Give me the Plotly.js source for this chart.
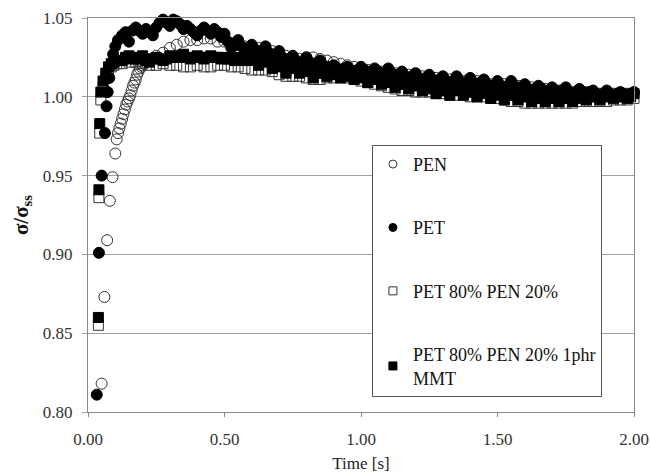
<!DOCTYPE html>
<html>
<head>
<meta charset="utf-8">
<script src="https://cdn.plot.ly/plotly-3.0.1.min.js"></script>
<style>html,body{margin:0;padding:0;background:#fff;}#chart{width:651px;height:473px;}</style>
</head>
<body>
<div id="chart"></div>
<script>
// Legend names
const seriesNames = ["PEN", "PET", "PET 80% PEN 20%", "PET 80% PEN 20% 1phr<br>MMT"];

// Shared time values for the long part of every curve [s]
const tTail = [0.125,0.15,0.175,0.2,0.225,0.25,0.275,0.3,0.325,0.35,
  0.375,0.4,0.425,0.45,0.475,0.5,0.525,0.55,0.575,0.6,
  0.625,0.65,0.675,0.7,0.725,0.75,0.775,0.8,0.825,0.85,
  0.875,0.9,0.925,0.95,0.975,1.0,1.025,1.05,1.075,1.1,
  1.125,1.15,1.175,1.2,1.225,1.25,1.275,1.3,1.325,1.35,
  1.375,1.4,1.425,1.45,1.475,1.5,1.525,1.55,1.575,1.6,
  1.625,1.65,1.675,1.7,1.725,1.75,1.775,1.8,1.825,1.85,
  1.875,1.9,1.925,1.95,1.975,2.0];
// In-between time values (denser sampling of the filled series) [s]
const tTailB = [0.1375,0.1625,0.1875,0.2125,0.2375,0.2625,0.2875,0.3125,0.3375,0.3625,
  0.3875,0.4125,0.4375,0.4625,0.4875,0.5125,0.5375,0.5625,0.5875,0.6125,
  0.6375,0.6625,0.6875,0.7125,0.7375,0.7625,0.7875,0.8125,0.8375,0.8625,
  0.8875,0.9125,0.9375,0.9625,0.9875,1.0125,1.0375,1.0625,1.0875,1.1125,
  1.1375,1.1625,1.1875,1.2125,1.2375,1.2625,1.2875,1.3125,1.3375,1.3625,
  1.3875,1.4125,1.4375,1.4625,1.4875,1.5125,1.5375,1.5625,1.5875,1.6125,
  1.6375,1.6625,1.6875,1.7125,1.7375,1.7625,1.7875,1.8125,1.8375,1.8625,
  1.8875,1.9125,1.9375,1.9625,1.9875];

// PEN (open circles)
const penX0 = [0.050,0.060,0.070,0.080,0.090,0.100,0.105,0.110,0.115,0.120,0.130,0.135,0.140,0.145,0.155,0.160,0.165,0.170,0.180,0.185,0.190,0.195,0.205,0.210];
const penY0 = [0.818,0.873,0.909,0.934,0.949,0.964,0.973,0.977,0.980,0.983,0.989,0.992,0.995,0.997,1.001,1.004,1.007,1.009,1.014,1.016,1.018,1.019,1.021,1.022];
const penY = [0.986,0.999,1.011,1.020,1.024,1.026,1.028,1.031,1.033,1.035,
  1.036,1.036,1.037,1.037,1.035,1.035,1.034,1.033,1.032,1.031,
  1.031,1.030,1.029,1.027,1.026,1.025,1.024,1.025,1.025,1.024,
  1.023,1.022,1.021,1.020,1.019,1.018,1.017,1.017,1.016,1.016,
  1.015,1.014,1.014,1.013,1.013,1.012,1.012,1.011,1.011,1.011,
  1.010,1.010,1.010,1.009,1.008,1.008,1.008,1.008,1.007,1.006,
  1.006,1.005,1.005,1.004,1.004,1.004,1.003,1.003,1.003,1.003,
  1.002,1.002,1.002,1.002,1.002,1.002];

// PET (filled circles)
const petX0 = [0.032,0.040,0.050,0.062,0.068,0.072,0.078,0.085,0.092,0.100,0.110];
const petY0 = [0.811,0.901,0.950,0.977,0.994,1.003,1.012,1.020,1.027,1.032,1.036];
const petY = [1.039,1.035,1.044,1.040,1.041,1.044,1.049,1.045,1.048,1.043,
  1.043,1.039,1.044,1.040,1.041,1.040,1.031,1.036,1.028,1.033,
  1.027,1.032,1.025,1.029,1.022,1.026,1.020,1.025,1.018,1.023,
  1.017,1.020,1.016,1.019,1.015,1.019,1.014,1.018,1.013,1.018,
  1.012,1.016,1.011,1.015,1.010,1.014,1.008,1.013,1.007,1.013,
  1.007,1.012,1.006,1.011,1.005,1.010,1.004,1.010,1.004,1.008,
  1.003,1.007,1.002,1.006,1.002,1.006,1.001,1.005,1.002,1.004,
  1.001,1.004,1.001,1.003,1.001,1.003];
const petYB = [1.041,1.042,1.042,1.043,1.039,1.047,1.047,1.049,1.046,1.045,
  1.041,1.042,1.042,1.043,1.038,1.035,1.033,1.032,1.030,1.030,
  1.029,1.028,1.027,1.025,1.024,1.023,1.022,1.022,1.021,1.020,
  1.019,1.018,1.018,1.017,1.017,1.017,1.016,1.016,1.015,1.015,
  1.014,1.013,1.013,1.012,1.012,1.011,1.011,1.010,1.010,1.010,
  1.009,1.009,1.009,1.008,1.007,1.007,1.007,1.007,1.006,1.005,
  1.005,1.005,1.004,1.004,1.004,1.003,1.003,1.003,1.003,1.002,
  1.002,1.002,1.002,1.002,1.002];

// PET 80% PEN 20% (open squares)
const blendX0 = [0.038,0.040,0.043,0.047,0.055,0.065,0.075,0.085,0.095,0.105];
const blendY0 = [0.855,0.936,0.977,0.998,1.006,1.012,1.016,1.019,1.020,1.021];
const blendY = [1.021,1.022,1.022,1.021,1.020,1.020,1.021,1.020,1.020,1.019,
  1.019,1.020,1.019,1.019,1.020,1.020,1.019,1.019,1.018,1.017,
  1.017,1.017,1.016,1.014,1.013,1.013,1.013,1.012,1.011,1.011,
  1.012,1.012,1.012,1.012,1.011,1.010,1.009,1.008,1.007,1.006,
  1.005,1.004,1.004,1.003,1.003,1.003,1.002,1.002,1.001,1.001,
  1.001,1.000,1.000,1.000,0.999,0.999,0.998,0.997,0.997,0.996,
  0.996,0.996,0.996,0.996,0.996,0.996,0.996,0.997,0.997,0.997,
  0.997,0.997,0.998,0.998,0.998,0.999];

// PET 80% PEN 20% 1phr MMT (filled squares)
const mmtX0 = [0.038,0.040,0.043,0.047,0.055,0.065,0.075,0.085,0.095,0.105];
const mmtY0 = [0.860,0.941,0.983,1.003,1.010,1.015,1.019,1.021,1.022,1.023];
const mmtY = [1.023,1.026,1.024,1.026,1.022,1.025,1.023,1.026,1.025,1.027,
  1.024,1.026,1.024,1.026,1.025,1.025,1.024,1.025,1.023,1.027,
  1.020,1.026,1.018,1.023,1.015,1.021,1.015,1.020,1.012,1.018,
  1.013,1.017,1.012,1.016,1.011,1.015,1.009,1.014,1.008,1.013,
  1.006,1.011,1.005,1.010,1.004,1.009,1.002,1.008,1.001,1.007,
  1.001,1.006,1.000,1.006,0.999,1.005,0.998,1.004,0.998,1.003,
  0.997,1.002,0.997,1.002,0.997,1.002,0.997,1.002,0.998,1.001,
  0.998,1.001,0.999,1.001,0.999,1.002];
const mmtYB = [1.025,1.024,1.025,1.023,1.024,1.024,1.024,1.025,1.026,1.025,
  1.025,1.025,1.025,1.025,1.024,1.024,1.023,1.024,1.024,1.023,
  1.023,1.022,1.020,1.019,1.018,1.018,1.017,1.016,1.015,1.015,
  1.015,1.014,1.014,1.013,1.013,1.012,1.011,1.011,1.010,1.009,
  1.008,1.008,1.007,1.007,1.006,1.005,1.005,1.004,1.004,1.004,
  1.003,1.003,1.003,1.002,1.002,1.001,1.001,1.001,1.000,1.000,
  1.000,0.999,0.999,0.999,0.999,0.999,0.999,1.000,1.000,1.000,
  1.000,1.000,1.000,1.000,1.000];

const serif = "Liberation Serif, Times New Roman, serif";
const symbols = ["circle-open", "circle", "square-open", "square"];
const colors = ["#333333", "#000000", "#333333", "#000000"];
const sizes = [11, 11, 10, 10];

const xs = [penX0.concat(tTail), petX0.concat(tTail, tTailB), blendX0.concat(tTail), mmtX0.concat(tTail, tTailB)];
const ys = [penY0.concat(penY), petY0.concat(petY, petYB), blendY0.concat(blendY), mmtY0.concat(mmtY, mmtYB)];

const traces = [];
// data traces (open markers underneath, filled ones on top)
[0, 2, 1, 3].forEach(function (i) {
  traces.push({
    type: "scatter", mode: "markers", name: seriesNames[i],
    x: xs[i], y: ys[i], showlegend: false, cliponaxis: false,
    marker: {symbol: symbols[i], size: sizes[i], color: colors[i], line: {width: 1, color: colors[i]}}
  });
});
// legend entries with the small legend markers of the reference
for (let i = 0; i < 4; i++) {
  traces.push({
    type: "scatter", mode: "markers", name: seriesNames[i],
    x: [null], y: [null], legendgroup: "g" + i, showlegend: true,
    marker: {symbol: symbols[i], size: 8, color: colors[i], line: {width: 1, color: colors[i]}}
  });
}

const layout = {
  width: 651, height: 473,
  margin: {l: 88, r: 17, t: 18, b: 61},
  paper_bgcolor: "#ffffff", plot_bgcolor: "#ffffff",
  font: {family: serif, size: 16, color: "#222"},
  showlegend: true,
  legend: {
    x: 0.52, y: 0.678, xanchor: "left", yanchor: "top",
    bordercolor: "#555", borderwidth: 1, bgcolor: "#ffffff",
    font: {family: serif, size: 18, color: "#111"},
    tracegroupgap: 37, itemsizing: "trace"
  },
  xaxis: {
    range: [0, 2], tickvals: [0, 0.5, 1, 1.5, 2], tickformat: ".2f",
    showline: true, linecolor: "#8a8a8a", linewidth: 1, mirror: true,
    showgrid: false, zeroline: false,
    ticks: "outside", ticklen: 4, tickcolor: "#8a8a8a",
    ticklabelstandoff: 8,
    tickfont: {family: serif, size: 17, color: "#333"},
    title: {text: "Time [s]", font: {family: serif, size: 17, color: "#222"}, standoff: 8}
  },
  yaxis: {
    range: [0.80, 1.05], tickvals: [0.80, 0.85, 0.90, 0.95, 1.00, 1.05], tickformat: ".2f",
    showline: true, linecolor: "#8a8a8a", linewidth: 1, mirror: true,
    showgrid: true, gridcolor: "#a0a0a0", gridwidth: 1, zeroline: false,
    ticks: "outside", ticklen: 5, tickcolor: "#a0a0a0",
    ticklabelstandoff: 6,
    tickfont: {family: serif, size: 17, color: "#333"},
    title: {text: "<b>σ/σ<sub>ss</sub></b>", font: {family: serif, size: 21, color: "#111"}, standoff: 8}
  }
};

Plotly.newPlot("chart", traces, layout, {displayModeBar: false, staticPlot: true});
</script>
</body>
</html>
